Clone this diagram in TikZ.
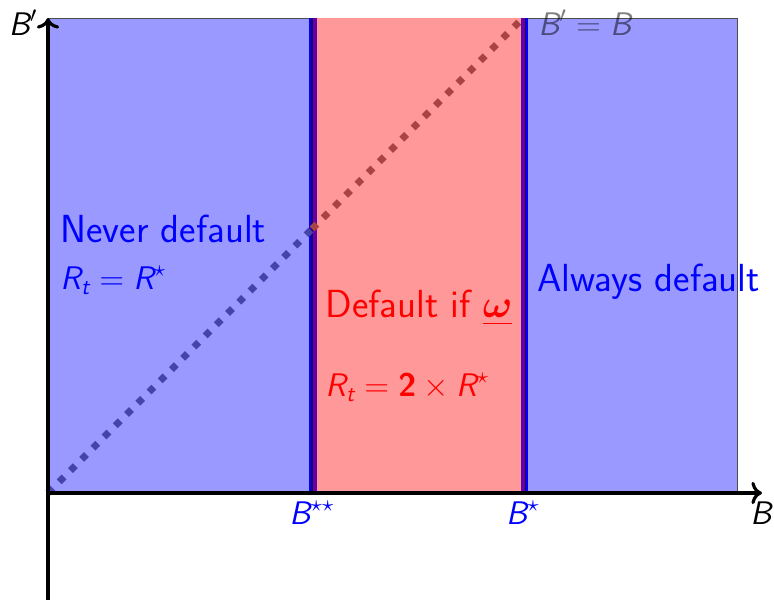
\documentclass[tikz,border=0pt]{standalone}
\usepackage{amsmath,bm}
\usetikzlibrary{arrows.meta}

\definecolor{diagblue}{RGB}{68,68,170}
\definecolor{diagred}{RGB}{170,68,68}
\definecolor{edgeviolet}{RGB}{102,0,170}
\definecolor{edgedark}{RGB}{30,0,90}

\newcommand{\sv}[1]{\textit{#1}}

\begin{document}
\begin{tikzpicture}[
  x=1.55cm, y=1.55cm,
  font=\sffamily,
  axis/.style={->, line width=1.4pt},
  region/.style={draw=black!70, line width=0.4pt},
  cutoff/.style={draw=blue, line width=1.3pt},
  cutedge/.style={draw=edgeviolet, line width=1.8pt},
  cutdark/.style={draw=edgedark, line width=0.45pt},
  diag/.style={line width=3pt, dash pattern=on 3pt off 4pt},
  lbl/.style={inner sep=0pt, anchor=base west},
  tick/.style={inner sep=0pt, anchor=base, font=\sffamily\Large, text=blue}
]

\def\Bss{2.64}
\def\Bs{4.77}
\def\W{6.89}
\def\H{4.75}

\useasboundingbox (-0.48,-1.07) rectangle (7.26,4.93);

% Regions.
\fill[region, fill=blue!40] (0,0) rectangle (\W,\H);
\fill[red!40] (\Bss,0) rectangle (\Bs,\H);

% Thresholds.
\draw[cutoff] (\Bss-0.017,0) -- (\Bss-0.017,\H);
\draw[cutedge] (\Bss+0.027,0) -- (\Bss+0.027,\H);
\draw[cutdark] (\Bss,0) -- (\Bss,\H);
\draw[cutoff] (\Bs+0.02,0) -- (\Bs+0.02,\H);
\draw[cutedge] (\Bs-0.023,0) -- (\Bs-0.023,\H);
\draw[cutdark] (\Bs,0) -- (\Bs,\H);

% 45 degree line.
\draw[diag, diagblue] (0,0) -- (\Bss,\Bss);
\draw[diag, diagred] (\Bss,\Bss) -- (4.75,\H);

% Axes.
\draw[axis] (0,-1.07) -- (0,\H);
\draw[axis] (0,0) -- (7.14,0);

% Axis labels.
\node[inner sep=0pt, anchor=base east, font=\sffamily\Large] (ylbl) at (-0.10,4.57) {$\sv{B}'$};
\node[inner sep=0pt, anchor=base, font=\sffamily\Large] (xlbl) at (7.13,-0.32) {$\sv{B}$};
\node[lbl, font=\sffamily\Large, text opacity=0.5] (diaglbl) at (4.90,4.57) {$\sv{B}' = \sv{B}$};
\node[tick] (bsslbl) at (2.64,-0.32) {$\sv{B}^{\star\star}$};
\node[tick] (bslbl) at (4.75,-0.32) {$\sv{B}^{\star}$};

% Region labels.
\node[lbl, font=\sffamily\LARGE, text=blue] (never) at (0.12,2.50) {Never default};
\node[lbl, font=\sffamily\Large, text=blue] (neverR) at (0.12,2.03) {$\sv{R}_{\sv{t}} = \sv{R}^{\star}$};
\node[lbl, font=\sffamily\LARGE, text=red] (maybe) at (2.77,1.75) {Default if $\underline{\bm{\omega}}$};
\node[lbl, font=\sffamily\Large, text=red] (maybeR) at (2.77,0.96) {$\sv{R}_{\sv{t}} = \textbf{2} \times \sv{R}^{\star}$};
\node[lbl, font=\sffamily\LARGE, text=blue] (always) at (4.89,2.01) {Always default};

\end{tikzpicture}
\end{document}
